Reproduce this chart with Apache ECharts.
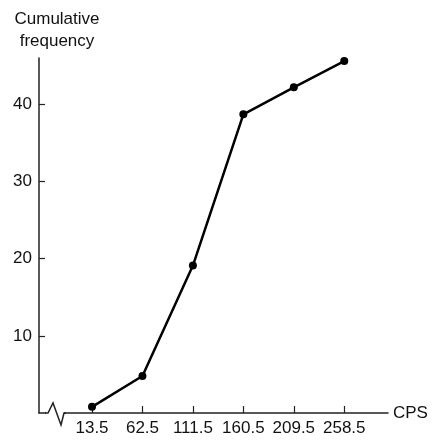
<!DOCTYPE html>
<html>
<head>
<meta charset="utf-8">
<script src="https://cdn.jsdelivr.net/npm/echarts@6/dist/echarts.min.js"></script>
<style>
  html, body { margin: 0; padding: 0; background: #fff; }
  #chart { width: 432px; height: 440px; }
</style>
</head>
<body>
<div id="chart"></div>
<script>
// class mid-points (CPS) and cumulative frequency
var cps = [13.5, 62.5, 111.5, 160.5, 209.5, 258.5];
var cumFreq = [0.8, 4.8, 19.1, 38.7, 42.2, 45.6];
var yTicks = [10, 20, 30, 40];

var font = 'Liberation Sans, Arial, Helvetica, sans-serif';

var points = [];
cps.forEach(function (c, i) {
    points.push([c, cumFreq[i]]);
});

var myChart = echarts.init(document.getElementById('chart'));

var options = {
    animation: false,
    grid: { left: 39, right: 44, top: 58, bottom: 27, outerBoundsMode: 'none', containLabel: false },
    xAxis: {
        type: 'value',
        min: -38,
        max: 301,
        name: 'CPS',
        nameLocation: 'end',
        nameGap: 5,
        nameTextStyle: { color: '#111', fontSize: 17, fontFamily: font },
        axisLine: { onZero: false, lineStyle: { color: '#222', width: 1.5 } },
        axisTick: {
            inside: true,
            length: 7,
            customValues: cps,
            lineStyle: { color: '#222', width: 1.2 }
        },
        axisLabel: {
            customValues: cps,
            margin: 7,
            color: '#111',
            fontSize: 17,
            fontFamily: font
        },
        splitLine: { show: false }
    },
    yAxis: {
        type: 'value',
        min: 0,
        max: 46,
        name: 'Cumulative\nfrequency',
        nameLocation: 'end',
        nameGap: 6,
        nameTextStyle: {
            color: '#111',
            fontSize: 17,
            lineHeight: 22,
            fontFamily: font,
            align: 'center',
            padding: [0, 0, 0, 36]
        },
        axisLine: { show: true, onZero: false, lineStyle: { color: '#222', width: 1.5 } },
        axisTick: {
            show: true,
            inside: true,
            length: 6,
            customValues: yTicks,
            lineStyle: { color: '#222', width: 1.2 }
        },
        axisLabel: {
            customValues: yTicks,
            margin: 7,
            color: '#111',
            fontSize: 17,
            fontFamily: font
        },
        splitLine: { show: false }
    },
    // break mark on the x axis near the origin
    graphic: [
        {
            type: 'rect',
            shape: { x: 46, y: 410, width: 18, height: 7 },
            style: { fill: '#fff' },
            z: 100
        },
        {
            type: 'polyline',
            shape: { points: [[45, 413], [48, 413], [53, 403], [61, 425], [64, 413], [66, 413]] },
            style: { stroke: '#222', lineWidth: 1.5, fill: null },
            z: 101
        }
    ],
    series: [
        {
            type: 'line',
            data: points,
            symbol: 'circle',
            symbolSize: 8,
            itemStyle: { color: '#000' },
            lineStyle: { color: '#000', width: 2.5 }
        }
    ]
};

myChart.setOption(options);
</script>
</body>
</html>
